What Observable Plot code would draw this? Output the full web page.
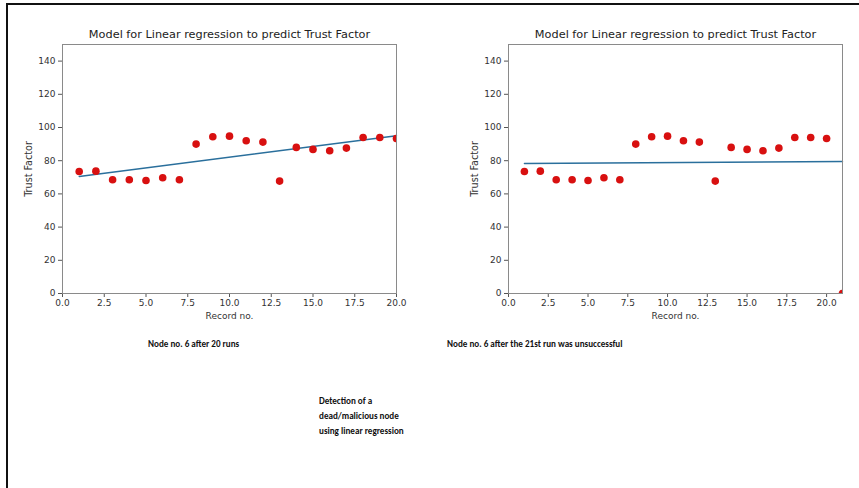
<!DOCTYPE html>
<html>
<head>
<meta charset="utf-8">
<script src="https://cdn.jsdelivr.net/npm/d3@7"></script>
<script src="https://cdn.jsdelivr.net/npm/@observablehq/plot@0.6"></script>
<style>
  html, body { margin: 0; padding: 0; background: #fff; }
  #page { position: relative; width: 859px; height: 488px; overflow: hidden; background: #fff; }
  #page .topline { position: absolute; left: 6px; top: 3px; width: 853px; height: 2px; background: #111; }
  #page .leftline { position: absolute; left: 6px; top: 3px; width: 2px; height: 485px; background: #111; }
  .chart { position: absolute; top: 0; }
  .cap { position: absolute; font-family: "Carlito", "Lato", sans-serif; font-weight: bold; font-size: 9.1px; color: #111; white-space: nowrap; line-height: 15px; }
</style>
</head>
<body>
<div id="page">
  <div class="topline"></div>
  <div class="leftline"></div>
  <div id="left" class="chart" style="left:0px"></div>
  <div id="right" class="chart" style="left:430px"></div>
  <div class="cap" id="capL" style="left:148px; top:336px;"></div>
  <div class="cap" id="capR" style="left:447px; top:336px;"></div>
  <div class="cap" id="capC" style="left:319px; top:393px;"></div>
</div>
<script>
// ---- data ----
const records = [1,2,3,4,5,6,7,8,9,10,11,12,13,14,15,16,17,18,19,20];
const trustAfter20 = [73.5,73.7,68.5,68.5,68.1,69.7,68.5,90.0,94.4,94.8,92.0,91.2,67.7,88.0,86.8,86.0,87.6,94.0,94.0,93.4];
const records21 = [1,2,3,4,5,6,7,8,9,10,11,12,13,14,15,16,17,18,19,20,21];
const trustAfter21 = [73.5,73.7,68.5,68.5,68.1,69.7,68.5,90.0,94.4,94.8,92.0,91.2,67.7,88.0,86.8,86.0,87.6,94.0,94.0,93.4,0];
const fitLeftX = [1, 20];
const fitLeftY = [70.5, 95.0];
const fitRightX = [1, 21];
const fitRightY = [78.3, 79.5];
const yTicks = [0,20,40,60,80,100,120,140];
const xTicks = [0,2.5,5,7.5,10,12.5,15,17.5,20];
const chartTitle = "Model for Linear regression to predict Trust Factor";
const xLabel = "Record no.";
const yLabel = "Trust Factor";
const captionLeft = "Node no. 6 after 20 runs";
const captionRight = "Node no. 6 after the 21st run was unsuccessful";
const captionCenter = ["Detection of a", "dead/malicious node", "using linear regression"];

const pts = (xs, ys) => xs.map((x, i) => ({x, y: ys[i]}));

function chart({width, marginLeft, marginRight, xMax, points, fit}) {
  return Plot.plot({
    width, height: 330,
    marginTop: 44, marginBottom: 37, marginLeft, marginRight,
    style: {fontFamily: "DejaVu Sans", fontSize: "9px", color: "#333", background: "transparent"},
    x: {domain: [0, xMax], label: null},
    y: {domain: [0, 150], label: null},
    marks: [
      Plot.axisY({ticks: yTicks, tickSize: 4, tickPadding: 3, label: null, stroke: "#555"}),
      Plot.axisX({ticks: xTicks, tickFormat: d3.format(".1f"), tickSize: 4, tickPadding: 2, label: null, stroke: "#555"}),
      Plot.line(fit, {x: "x", y: "y", stroke: "#2a6f9c", strokeWidth: 1.4}),
      Plot.dot(points, {x: "x", y: "y", r: 3.8, fill: "#d81010", stroke: "none", clip: true}),
      Plot.frame({stroke: "#8a8a8a"}),
      Plot.text([chartTitle], {frameAnchor: "top", dy: -10, text: d => d, fontSize: 11.3, fill: "#222", lineAnchor: "middle"}),
      Plot.text([xLabel], {frameAnchor: "bottom", dy: 23, text: d => d, fontSize: 9, fill: "#333", lineAnchor: "middle"}),
      Plot.text([yLabel], {frameAnchor: "left", dx: -34, rotate: -90, textAnchor: "middle", text: d => d, fontSize: 9.6, fill: "#333", lineAnchor: "middle"})
    ]
  });
}

document.getElementById("left").append(chart({
  width: 430, marginLeft: 62, marginRight: 34, xMax: 20,
  points: pts(records, trustAfter20), fit: pts(fitLeftX, fitLeftY)
}));
document.getElementById("right").append(chart({
  width: 429, marginLeft: 78, marginRight: 17, xMax: 21,
  points: pts(records21, trustAfter21), fit: pts(fitRightX, fitRightY)
}));
document.getElementById("capL").textContent = captionLeft;
document.getElementById("capR").textContent = captionRight;
document.getElementById("capC").innerHTML = captionCenter.join("<br>");
</script>
</body>
</html>
